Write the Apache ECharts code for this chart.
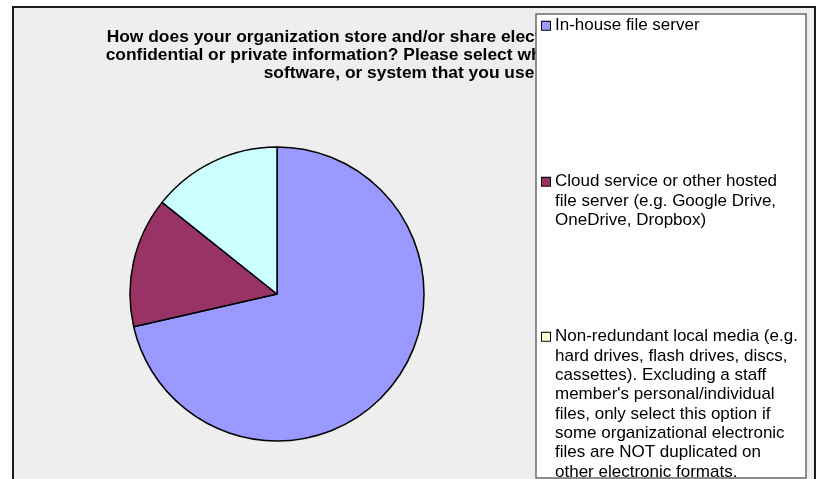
<!DOCTYPE html>
<html lang="en">
<head>
    <meta charset="UTF-8">
    <title>File storage</title>
    <script src="https://cdn.jsdelivr.net/npm/echarts@6.0.0/dist/echarts.min.js"></script>
    <style>
        body { margin: 0; background: #fff; }
        #main {
            position: absolute; left: 12px; top: 6px;
            width: 800px; height: 480px;
            border: 2px solid #1c1c1c; border-bottom: none;
        }
    </style>
</head>
<body>
<div id="main"></div>
<script type="text/javascript">
    // data
    var titleLines = [
        'How does your organization store and/or share electronic records with',
        'confidential or private information? Please select which online service,',
        'software, or system that you use'
    ];
    var legendLines = [
        ['In-house file server'],
        ['Cloud service or other hosted', 'file server (e.g. Google Drive,', 'OneDrive, Dropbox)'],
        ['Non-redundant local media (e.g.', 'hard drives, flash drives, discs,', 'cassettes). Excluding a staff',
         'member\'s personal/individual', 'files, only select this option if', 'some organizational electronic',
         'files are NOT duplicated on', 'other electronic formats.']
    ];
    var categories = legendLines.map(function (l) { return l.join(' '); });
    var values = [5, 1, 1];
    var sliceColors = ['#9999FF', '#993366', '#CCFFFF'];
    var markerColors = ['#9999FF', '#993366', '#FFFFCC'];

    var lh = 19.3;
    var iconCenters = [17.8, 173.8, 328.8];   // y of each legend marker centre

    var myChart = echarts.init(document.getElementById('main'));

    // 每个图例单独一个 legend，色块放进富文本第一行
    var legends = categories.map(function (name, i) {
        return {
            orient: 'vertical',
            left: 522,
            top: iconCenters[i] - lh / 2,
            padding: 0,
            z: 10,
            icon: 'none',
            itemWidth: 1,
            itemHeight: 1,
            selectedMode: false,
            data: [name],
            formatter: function () {
                return legendLines[i].map(function (line, k) {
                    return (k === 0 ? '{m|}{g|}' : '{s|}') + '{t|' + line + '}';
                }).join('\n');
            },
            textStyle: {
                lineHeight: lh,
                rich: {
                    m: { width: 8, height: 8, backgroundColor: markerColors[i], borderColor: '#000', borderWidth: 1 },
                    g: { width: 5 },
                    s: { width: 13 },
                    t: {
                        fontFamily: 'Liberation Sans, Arial, sans-serif',
                        fontSize: 17,
                        color: '#000',
                        lineHeight: lh
                    }
                }
            }
        };
    });

    var option = {
        backgroundColor: '#EEEEEE',
        animation: false,
        title: {
            text: titleLines.join('\n'),
            left: 385,
            top: 20,
            padding: 0,
            z: 1,
            textAlign: 'center',
            textStyle: {
                fontFamily: 'Liberation Sans, Arial, sans-serif',
                fontSize: 17.4,
                fontWeight: 'bold',
                color: '#000',
                lineHeight: 18
            }
        },
        graphic: [{
            type: 'rect',
            z: 5,
            shape: { x: 522, y: 6, width: 270, height: 464 },
            style: { fill: '#fff', stroke: '#6a6a6a', lineWidth: 1.5 }
        }],
        legend: legends,
        series: [{
            type: 'pie',
            center: [263, 286],
            radius: 147,
            startAngle: 90,
            label: { show: false },
            labelLine: { show: false },
            emphasis: { disabled: true },
            itemStyle: { borderColor: '#000', borderWidth: 1.5 },
            data: categories.map(function (c, i) {
                return { name: c, value: values[i], itemStyle: { color: sliceColors[i] } };
            })
        }]
    };
    myChart.setOption(option);
</script>
</body>
</html>
